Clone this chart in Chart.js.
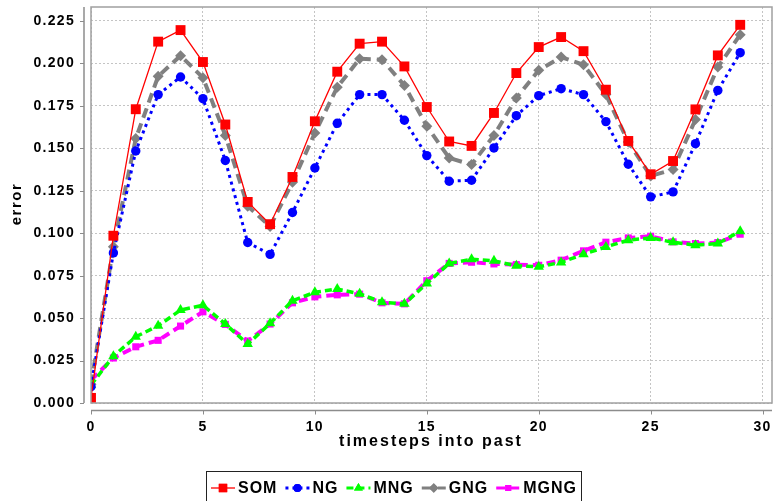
<!DOCTYPE html>
<html>
<head>
<meta charset="utf-8">
<script src="https://cdn.jsdelivr.net/npm/chart.js@4/dist/chart.umd.min.js"></script>
<style>
html,body{margin:0;padding:0;background:#fff;}
canvas{display:block;}
</style>
</head>
<body>
<canvas id="c" width="779" height="501"></canvas>
<script>
const steps = [0,1,2,3,4,5,6,7,8,9,10,11,12,13,14,15,16,17,18,19,20,21,22,23,24,25,26,27,28,29];
const somErr  = [0.003,0.0985,0.173,0.2128,0.2196,0.2008,0.164,0.1184,0.1053,0.1331,0.1659,0.1951,0.2116,0.2128,0.1982,0.1743,0.154,0.1514,0.1708,0.1943,0.2096,0.2155,0.2072,0.1845,0.1543,0.1347,0.1425,0.1729,0.2047,0.2227];
const ngErr   = [0.0096,0.0884,0.1484,0.1816,0.192,0.1792,0.1428,0.0945,0.0875,0.1122,0.1384,0.1647,0.1816,0.1816,0.1665,0.1457,0.1306,0.1312,0.1502,0.1692,0.181,0.1851,0.1816,0.1657,0.1406,0.1214,0.1243,0.1527,0.1841,0.2063];
const mngErr  = [0.0106,0.0276,0.039,0.0455,0.0547,0.0576,0.0465,0.0347,0.0469,0.0602,0.0652,0.0671,0.0643,0.0594,0.0584,0.0704,0.0822,0.0847,0.0837,0.0808,0.0802,0.0828,0.0876,0.0919,0.0959,0.0972,0.0947,0.0929,0.0939,0.1012];
const gngErr  = [0.011,0.092,0.1557,0.1924,0.2045,0.1916,0.1576,0.1159,0.104,0.130,0.159,0.186,0.2027,0.2022,0.187,0.163,0.1443,0.1404,0.1576,0.1796,0.1959,0.2037,0.1992,0.1816,0.1537,0.1337,0.1375,0.1669,0.1978,0.2169];
const mgngErr = [0.0135,0.0265,0.0331,0.0369,0.0453,0.0537,0.0463,0.0365,0.0465,0.059,0.0625,0.0637,0.0641,0.059,0.0584,0.072,0.0822,0.0829,0.0819,0.0815,0.0811,0.0841,0.0896,0.0947,0.0972,0.0982,0.0949,0.0939,0.0945,0.0994];
const seriesNames = ['SOM','NG','MNG','GNG','MGNG'];
const xTitle = 'timesteps into past';
const yTitle = 'error';

const FONT = '"Liberation Sans", Arial, Helvetica, sans-serif';
const pts = arr => arr.map((v,i) => ({x: steps[i], y: v}));

function ds(label, arr, color, width, dash, style, radius) {
  return {
    label, data: pts(arr),
    borderColor: color, backgroundColor: color,
    borderWidth: width, borderDash: dash,
    pointStyle: style, pointRadius: radius, pointHoverRadius: radius,
    pointBackgroundColor: color, pointBorderColor: color, pointBorderWidth: 0,
    tension: 0, clip: 0, fill: false
  };
}

const frame = {
  id: 'frame',
  beforeUpdate(chart){ chart.ctx.letterSpacing = '1.3px'; },
  beforeDraw(chart){ chart.ctx.letterSpacing = '1.3px'; },
  afterDraw(chart){
    const ctx = chart.ctx, a = chart.chartArea;
    const xs = chart.scales.x, ys = chart.scales.y;
    ctx.save();
    // plot border
    ctx.strokeStyle = '#a0a0a0'; ctx.lineWidth = 1.5; ctx.setLineDash([]);
    ctx.strokeRect(a.left, a.top, a.right - a.left, a.bottom - a.top);
    // offset axes
    ctx.strokeStyle = '#8c8c8c'; ctx.lineWidth = 1.5;
    const axX = a.left - 7, axY = a.bottom + 7.5;
    ctx.beginPath(); ctx.moveTo(axX, a.top); ctx.lineTo(axX, a.bottom); ctx.stroke();
    ctx.beginPath(); ctx.moveTo(a.left, axY); ctx.lineTo(a.right, axY); ctx.stroke();
    ctx.lineWidth = 1;
    ys.ticks.forEach(t => { const y = Math.round(ys.getPixelForValue(t.value)) + 0.5;
      ctx.beginPath(); ctx.moveTo(axX - 4, y); ctx.lineTo(axX, y); ctx.stroke(); });
    xs.ticks.forEach(t => { const x = Math.round(xs.getPixelForValue(t.value)) + 0.5;
      ctx.beginPath(); ctx.moveTo(x, axY); ctx.lineTo(x, axY + 4); ctx.stroke(); });
    // axis titles
    ctx.fillStyle = '#000';
    ctx.font = 'bold 15px ' + FONT; ctx.letterSpacing = '1.5px';
    ctx.textAlign = 'center'; ctx.textBaseline = 'middle';
    ctx.save(); ctx.translate(17, 204); ctx.rotate(-Math.PI / 2);
    ctx.fillText(yTitle, 0, 0); ctx.restore();
    ctx.font = 'bold 16px ' + FONT; ctx.letterSpacing = '2px';
    ctx.fillText(xTitle, 431, 442);
    // legend
    const sets = chart.data.datasets;
    ctx.font = 'bold 16px ' + FONT; ctx.letterSpacing = '1px';
    const widths = sets.map(d => ctx.measureText(d.label).width);
    const symW = 24, txtOff = 27, gap = 8;
    let total = widths.reduce((s, w) => s + txtOff + w, 0) + gap * (sets.length - 1);
    let x = Math.round(394 - total / 2);
    const ly = 488;
    ctx.strokeStyle = '#222'; ctx.lineWidth = 1;
    ctx.strokeRect(x - 4.5, 471.5, total + 9, 30);
    sets.forEach((d, i) => {
      ctx.save();
      ctx.strokeStyle = d.borderColor; ctx.lineWidth = Math.min(d.borderWidth, 3);
      ctx.setLineDash(d.borderDash || []);
      ctx.beginPath(); ctx.moveTo(x, ly); ctx.lineTo(x + symW, ly); ctx.stroke();
      ctx.setLineDash([]);
      ctx.fillStyle = d.borderColor;
      Chart.helpers.drawPoint(ctx, {pointStyle: d.pointStyle, radius: d.pointRadius * 0.85, rotation: 0, borderWidth: 0}, x + symW / 2, ly);
      ctx.fill();
      ctx.restore();
      ctx.fillStyle = '#000'; ctx.textAlign = 'left'; ctx.textBaseline = 'middle';
      ctx.fillText(d.label, x + txtOff, ly + 1);
      x += txtOff + widths[i] + gap;
    });
    ctx.restore();
  }
};

function zeroPad(s){ s.paddingLeft = 0; s.paddingRight = 0; s.paddingTop = 0; s.paddingBottom = 0; }

new Chart(document.getElementById('c'), {
  type: 'line',
  data: {
    datasets: [
      ds(seriesNames[0], somErr,  '#ff0000', 1.3, [],      'rect',    7),
      ds(seriesNames[1], ngErr,   '#0000ff', 3,   [3, 4],  'circle',  4.7),
      ds(seriesNames[2], mngErr,  '#00ff00', 3.5, [7, 4],  'triangle',6),
      ds(seriesNames[3], gngErr,  '#808080', 4,   [10, 6], 'rectRot', 5.5),
      ds(seriesNames[4], mgngErr, '#ff00ff', 4,   [9, 5],  'rect',    5)
    ]
  },
  options: {
    responsive: false, animation: false, events: [],
    layout: { padding: { top: 5, right: 1, left: 0, bottom: 0 } },
    plugins: { legend: { display: false }, tooltip: { enabled: false } },
    scales: {
      x: {
        type: 'linear', min: 0, max: 30.42,
        afterFit(s){ s.height = 98; zeroPad(s); },
        border: { display: false, dash: [2, 2] },
        grid: { color: '#c4c4c4', lineWidth: 1, drawTicks: false },
        ticks: { stepSize: 5, includeBounds: false, padding: 16, color: '#000',
                 font: { family: FONT, size: 14, weight: 'bold' },
                 callback: v => String(v) }
      },
      y: {
        type: 'linear', min: 0, max: 0.2332,
        afterFit(s){ s.width = 91; zeroPad(s); },
        border: { display: false, dash: [2, 2] },
        grid: { color: '#c4c4c4', lineWidth: 1, drawTicks: false },
        ticks: { stepSize: 0.025, includeBounds: false, padding: 16, color: '#000',
                 font: { family: FONT, size: 14, weight: 'bold' },
                 callback: v => v.toFixed(3) }
      }
    }
  },
  plugins: [frame]
});
</script>
</body>
</html>
